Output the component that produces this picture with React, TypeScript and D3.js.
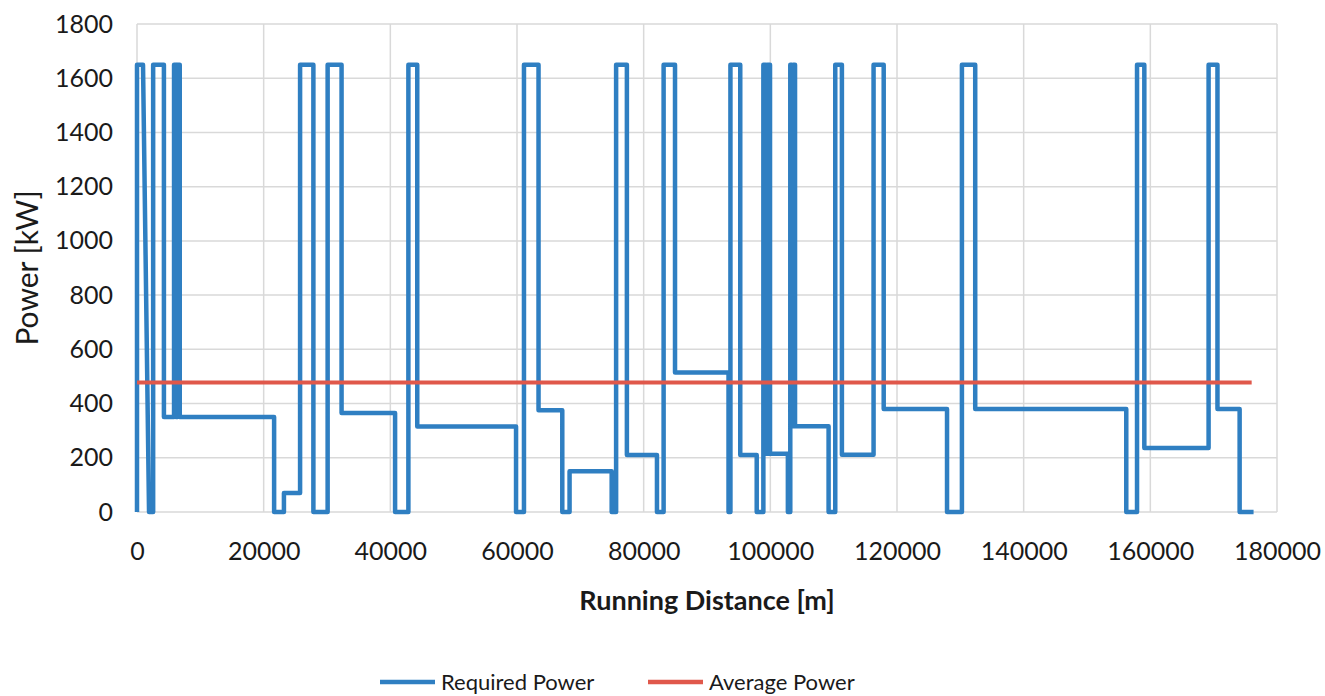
import React, { useRef, useEffect } from 'react';
import * as d3 from 'd3';

// running distance [m] and required power [kW]
const distance = [
  0, 0, 950, 1900, 2550, 2550, 4250, 4250, 5850, 5850, 6150, 6150, 6400, 6400, 6750, 6750,
  21650, 21650, 23200, 23200, 25750, 25750, 27850, 27850, 27850, 30100, 30100, 32300, 32300,
  40750, 40750, 42850, 42850, 44250, 44250, 59850, 59850, 61100, 61100, 63400, 63400,
  67150, 67150, 68300, 68300, 74950, 74950, 75650, 75650, 77350, 77350, 82100, 82100,
  83150, 83150, 84950, 84950, 93400, 93400, 93700, 93700, 95250, 95250, 97850, 97850,
  98900, 98900, 99250, 99250, 99550, 99550, 99950, 99950, 102770, 102770, 103150, 103150,
  103400, 103400, 103600, 103600, 103900, 103900, 109200, 109200, 110250, 110250, 111300,
  111300, 116300, 116300, 117900, 117900, 127900, 127900, 130250, 130250, 132350, 132350,
  156200, 156200, 157900, 157900, 159050, 159050, 169200, 169200, 170600, 170600, 174100,
  174100, 176300
];
const requiredPower = [
  0, 1650, 1650, 0, 0, 1650, 1650, 350, 350, 1650, 1650, 350, 350, 1650, 1650, 350,
  350, 0, 0, 70, 70, 1650, 1650, 350, 0, 0, 1650, 1650, 365,
  365, 0, 0, 1650, 1650, 315, 315, 0, 0, 1650, 1650, 375,
  375, 0, 0, 150, 150, 0, 0, 1650, 1650, 210, 210, 0,
  0, 1650, 1650, 515, 515, 0, 0, 1650, 1650, 210, 210, 0,
  0, 1650, 1650, 215, 215, 1650, 1650, 215, 215, 0, 0, 1650,
  1650, 316, 316, 1650, 1650, 316, 316, 0, 0, 1650, 1650,
  211, 211, 1650, 1650, 380, 380, 0, 0, 1650, 1650, 380,
  380, 0, 0, 1650, 1650, 236, 236, 1650, 1650, 380, 380,
  0, 0
];

const averageDistance = [0, 176000];
const averagePower = [478, 478];

const xTicks = [0, 20000, 40000, 60000, 80000, 100000, 120000, 140000, 160000, 180000];
const yTicks = [0, 200, 400, 600, 800, 1000, 1200, 1400, 1600, 1800];

const legendItems = ['Required Power', 'Average Power'];

const BLUE = '#2f7fc2';
const RED = '#e0584b';
const GRID = '#d9d9d9';
const FONT = 'Lato, "Open Sans", sans-serif';

const App = () => {
  const svgRef = useRef(null);
  const w = 1325;
  const h = 696;
  const margin = { left: 137, right: 48, top: 24, bottom: 184 };

  useEffect(() => {
    const svg = d3.select(svgRef.current);
    svg.selectAll('*').remove();

    const x = d3.scaleLinear().domain([0, 180000]).range([margin.left, w - margin.right]);
    const y = d3.scaleLinear().domain([0, 1800]).range([h - margin.bottom, margin.top]);

    // grid
    svg.append('g')
      .selectAll('line')
      .data(yTicks)
      .join('line')
      .attr('x1', x(0))
      .attr('x2', x(180000))
      .attr('y1', (d) => y(d))
      .attr('y2', (d) => y(d))
      .attr('stroke', GRID)
      .attr('stroke-width', 1.5);

    svg.append('g')
      .selectAll('line')
      .data(xTicks)
      .join('line')
      .attr('x1', (d) => x(d))
      .attr('x2', (d) => x(d))
      .attr('y1', y(0))
      .attr('y2', y(1800))
      .attr('stroke', GRID)
      .attr('stroke-width', 1.5);

    // axes (labels only)
    const xAxis = d3.axisBottom(x).tickValues(xTicks).tickSize(0).tickPadding(28).tickFormat(d3.format('d'));
    const yAxis = d3.axisLeft(y).tickValues(yTicks).tickSize(0).tickPadding(24).tickFormat(d3.format('d'));

    const gx = svg.append('g').attr('transform', `translate(0, ${y(0)})`).call(xAxis);
    const gy = svg.append('g').attr('transform', `translate(${x(0)}, 0)`).call(yAxis);
    [gx, gy].forEach((g) => {
      g.select('.domain').remove();
      g.selectAll('text')
        .attr('font-family', FONT)
        .attr('font-size', 25)
        .attr('fill', '#1a1a1a');
    });
    gx.selectAll('text').attr('dy', '0.35em').attr('y', 39);

    // series
    const pts = distance.map((d, i) => [d, requiredPower[i]]);
    const avg = averageDistance.map((d, i) => [d, averagePower[i]]);
    const lineGen = d3.line().x((d) => x(d[0])).y((d) => y(d[1]));

    svg.append('path')
      .attr('d', lineGen(pts))
      .attr('fill', 'none')
      .attr('stroke', BLUE)
      .attr('stroke-width', 4.5)
      .attr('stroke-linejoin', 'round');

    svg.append('path')
      .attr('d', lineGen(avg))
      .attr('fill', 'none')
      .attr('stroke', RED)
      .attr('stroke-width', 4);

    // titles
    svg.append('text')
      .attr('x', (x(0) + x(180000)) / 2)
      .attr('y', 601)
      .attr('dy', '0.35em')
      .attr('text-anchor', 'middle')
      .attr('font-family', FONT)
      .attr('font-weight', 'bold')
      .attr('font-size', 27)
      .attr('fill', '#1a1a1a')
      .text('Running Distance [m]');

    svg.append('text')
      .attr('transform', `translate(27, ${(y(0) + y(1800)) / 2}) rotate(-90)`)
      .attr('dy', '0.35em')
      .attr('text-anchor', 'middle')
      .attr('font-family', FONT)
      .attr('font-size', 30)
      .attr('fill', '#1a1a1a')
      .text('Power [kW]');

    // legend
    const legendX = [380, 648];
    const leg = svg.append('g')
      .selectAll('g')
      .data(legendItems)
      .join('g')
      .attr('transform', (d, i) => `translate(${legendX[i]}, 682)`);
    leg.append('line')
      .attr('x1', 0)
      .attr('x2', 55)
      .attr('stroke', (d, i) => (i === 0 ? BLUE : RED))
      .attr('stroke-width', 4.5);
    leg.append('text')
      .attr('x', 61)
      .attr('dy', '0.35em')
      .attr('font-family', FONT)
      .attr('font-size', 22)
      .attr('fill', '#1a1a1a')
      .text((d) => d);
  }, []);

  return (
    <svg
      ref={svgRef}
      width={w}
      height={h}
      style={{ position: 'absolute', left: 0, top: 0, background: '#fff' }}
    />
  );
};

export default App;
